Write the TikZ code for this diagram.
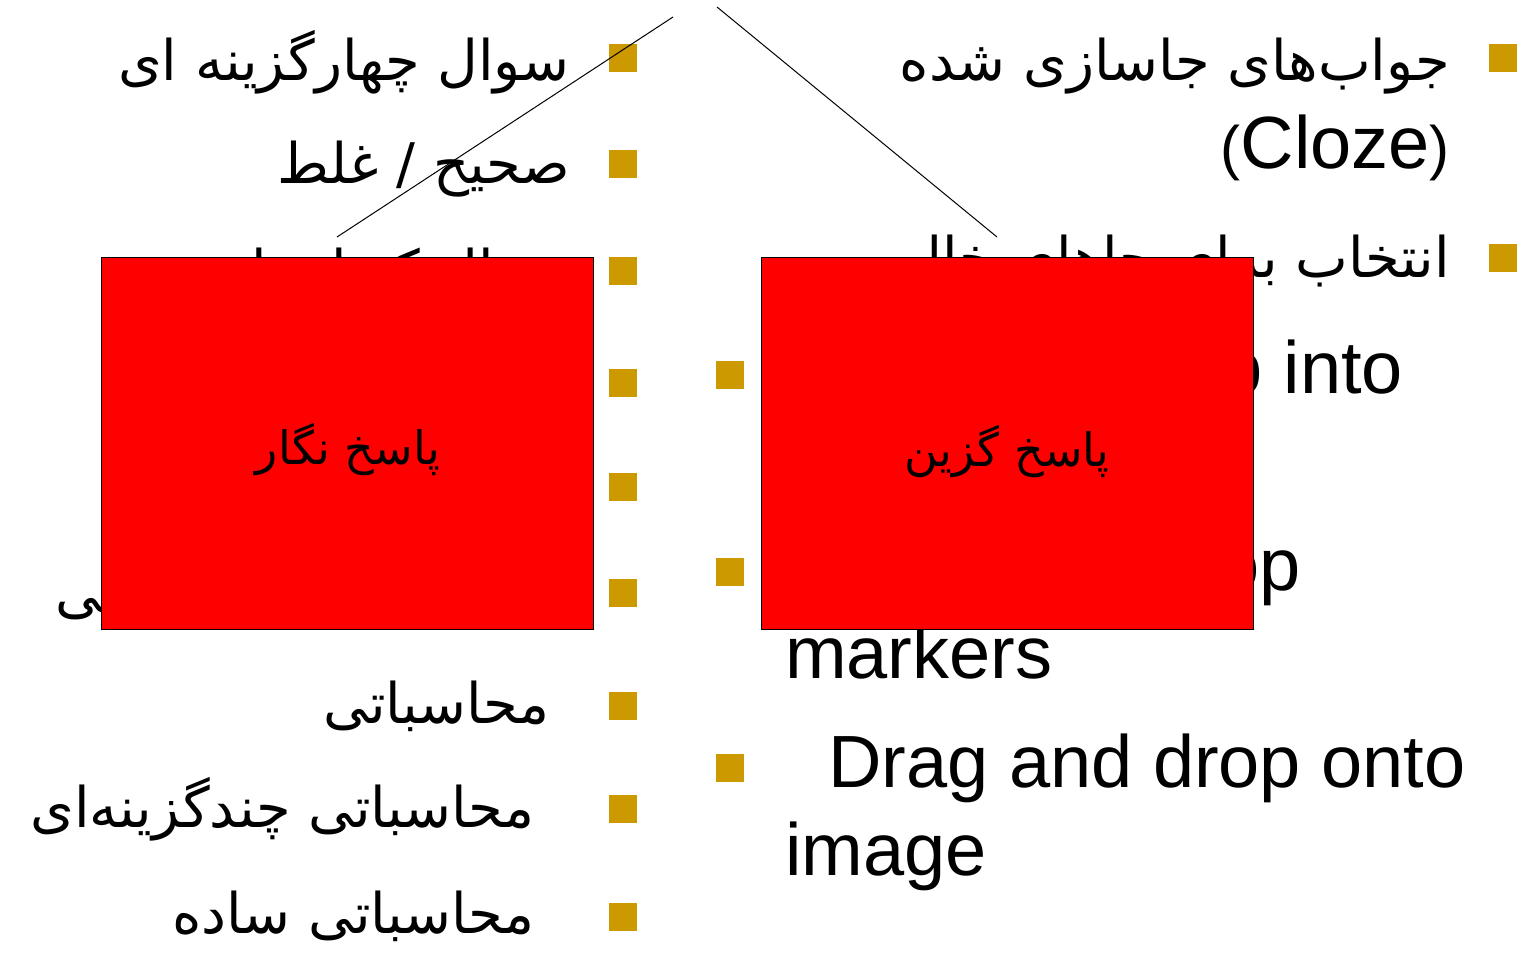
\documentclass[tikz,border=0pt]{standalone}
\usepackage{fontspec}
\setmainfont{Liberation Sans}
\newfontfamily\fa[Script=Arabic]{DejaVu Sans}
\TeXXeTstate=1
\definecolor{bulletgold}{HTML}{CC9900}
\tikzset{
  bul/.style={fill=bulletgold, minimum width=28pt, minimum height=28pt, inner sep=0pt, draw=none},
  fatext/.style={anchor=base east, inner sep=0pt, font=\fa\fontsize{56}{66}\selectfont},
  fatextw/.style={anchor=base west, inner sep=0pt, font=\fa\fontsize{56}{66}\selectfont},
  entext/.style={anchor=base west, inner sep=0pt, font=\fontsize{74}{88}\selectfont},
  redbox/.style={draw=black, line width=1pt, fill=red, anchor=north west, minimum width=492pt, minimum height=372pt, inner sep=0pt},
  boxtext/.style={inner sep=0pt, font=\fa\fontsize{46}{54}\selectfont},
  thinline/.style={draw=black, line width=1pt}
}
\begin{document}
\begin{tikzpicture}[x=1pt,y=-1pt]
\path[fill=white, use as bounding box] (0,0) rectangle (1535,954);
% left column bullets
\foreach \yy [count=\i] in {58,164,271,383,487,593,706,809,917}
  \node[bul] (lb\i) at (623,\yy) {};
% right column bullets
\node[bul] (rb1) at (1503,58) {};
\node[bul] (rb2) at (1503,258) {};
\node[bul] (rb3) at (730,375) {};
\node[bul] (rb4) at (730,572) {};
\node[bul] (rb5) at (730,768) {};
% left column texts
\node[fatext] (lt1) at (570,80) {\beginR سوال چهارگزینه ای\endR};
\node[fatext] (lt2) at (570,183) {\beginR صحیح / غلط\endR};
\node[fatext] (lt3) at (570,290) {\beginR سوال کوتاه پاسخ\endR};
\node[fatextw] (lt6) at (55,612) {\beginR جورکردنی تصادفی\endR};
\node[fatext] (lt7) at (550,723) {\beginR محاسباتی\endR};
\node[fatext] (lt8) at (535,827) {\beginR محاسباتی چندگزینه‌ای\endR};
\node[fatext] (lt9) at (535,933) {\beginR محاسباتی ساده\endR};
% right column texts
\node[fatext] (rt1) at (1450,80) {\beginR جواب‌های جاسازی شده\endR};
\node[anchor=base east, inner sep=0pt] (rt1b) at (1450,168) {{\fontsize{60}{66}\selectfont(}{\fontsize{74}{88}\selectfont Cloze}{\fontsize{60}{66}\selectfont)}};
\node[fatext] (rt2) at (1450,277) {\beginR انتخاب برای جاهای خالی\endR};
\node[entext] (rt3) at (790,393) {Drag and drop into};
\node[entext] (rt4) at (828,590) {Drag and drop};
\node[entext] (rt4b) at (785,678) {markers};
\node[entext] (rt5) at (828,787) {Drag and drop onto};
\node[entext] (rt5b) at (785,875) {image};
% connector lines
\coordinate (t1) at (673,17);
\coordinate (e1) at (337,237);
\coordinate (t2) at (717,7);
\coordinate (e2) at (997,237);
\draw[thinline] (t1) -- (e1);
\draw[thinline] (t2) -- (e2);
% red boxes
\node[redbox] (boxL) at (101,257) {};
\node[redbox] (boxR) at (761,257) {};
\node[boxtext] (boxLt) at (348,449) {\beginR پاسخ نگار\endR};
\node[boxtext] (boxRt) at (1007,451) {\beginR پاسخ گزین\endR};
\end{tikzpicture}
\end{document}
